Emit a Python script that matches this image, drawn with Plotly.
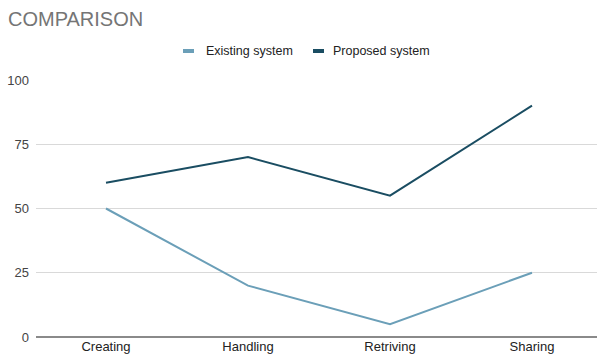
import plotly.graph_objects as go

categories = ["Creating", "Handling", "Retriving", "Sharing"]
existing = [50, 20, 5, 25]
proposed = [60, 70, 55, 90]
series_names = ["Existing system", "Proposed system"]
colors = ["#6b9fb8", "#1a4d62"]

W, H = 597, 360
L, R, T, B = 36, 0, 80, 23
pw, ph = W - L - R, H - T - B

def px_x(px):
    return (px - L) / pw

def px_y(py):
    return (H - B - py) / ph

fig = go.Figure()
for name, vals, c in zip(series_names, [existing, proposed], colors):
    fig.add_trace(go.Scatter(x=categories, y=vals, mode="lines", name=name,
                             line=dict(color=c, width=2), showlegend=False))

# custom legend
legend_items = [(183, 204), (313, 331)]
for (sx, tx), name, c in zip(legend_items, series_names, colors):
    fig.add_shape(type="rect", xref="paper", yref="paper",
                  x0=px_x(sx), x1=px_x(sx + 11), y0=px_y(53), y1=px_y(49),
                  fillcolor=c, line=dict(width=0))
    fig.add_annotation(xref="paper", yref="paper", x=px_x(tx), y=px_y(51),
                       text=name, showarrow=False, xanchor="left", yanchor="middle",
                       font=dict(size=12.5, color="#222222"))

fig.update_layout(
    width=W, height=H,
    margin=dict(l=L, r=R, t=T, b=B),
    paper_bgcolor="white", plot_bgcolor="white",
    font=dict(family="Arial, Liberation Sans, sans-serif", size=13, color="#222222"),
    title=dict(text="COMPARISON", x=8 / W, xanchor="left", xref="container",
               y=1 - 19 / H, yref="container", yanchor="middle",
               font=dict(size=20, color="#757575")),
)
fig.update_xaxes(range=[-70 / 142, 3 + 65 / 142], showgrid=False, showline=False,
                 zeroline=False, ticks="", tickfont=dict(size=13, color="#222222"))
fig.update_yaxes(range=[0, 100], tickvals=[0, 25, 50, 75, 100], showgrid=True,
                 gridcolor="#d9d9d9", gridwidth=1, zeroline=True, zerolinecolor="#8a8a8a",
                 zerolinewidth=2, showline=False, ticks="", ticklabelstandoff=6,
                 tickfont=dict(size=13, color="#444444"))

fig.write_html("out.html")
